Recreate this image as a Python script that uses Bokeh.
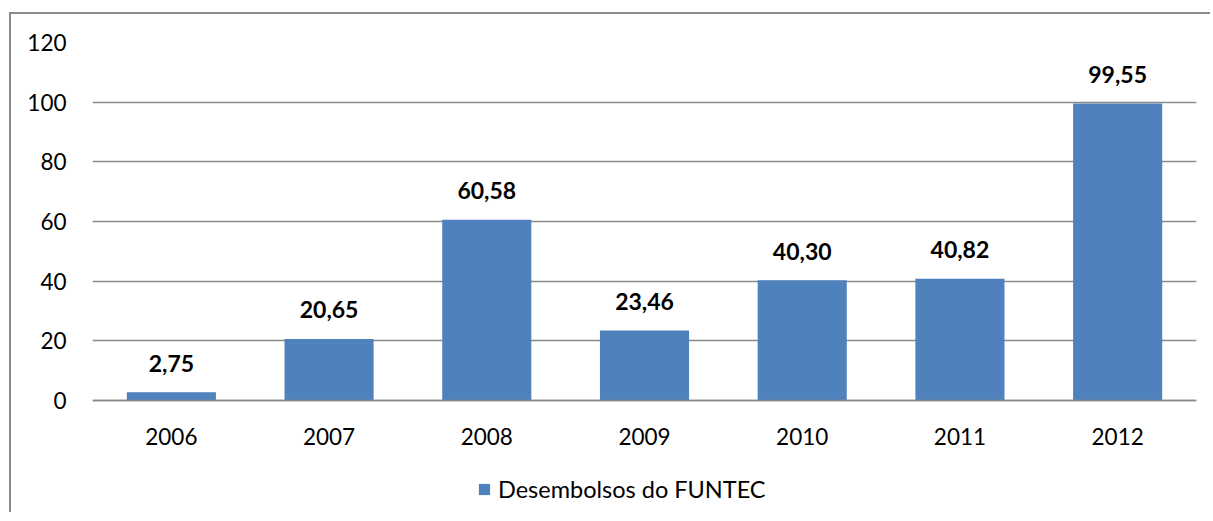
from bokeh.plotting import figure
from bokeh.models import ColumnDataSource, FactorRange, Range1d, Legend, LegendItem, FixedTicker
from bokeh.core.properties import value
from bokeh.embed import file_html
from bokeh.resources import INLINE

years = ["2006", "2007", "2008", "2009", "2010", "2011", "2012"]
desembolsos = [2.75, 20.65, 60.58, 23.46, 40.30, 40.82, 99.55]
labels = [f"{v:.2f}".replace(".", ",") for v in desembolsos]
y_ticks = [0, 20, 40, 60, 80, 100, 120]
series_name = "Desembolsos do FUNTEC"

FONT = "Lato"
source = ColumnDataSource(dict(x=years, y=desembolsos, label=labels))

# frame extends below zero so the category labels and legend sit inside it
FRAME_H = 468
Y_MAX = 120
Y_MIN = Y_MAX - FRAME_H * Y_MAX / 358.0

p = figure(width=1201, height=500, x_range=FactorRange(*years), y_range=Range1d(Y_MIN, Y_MAX),
           output_backend="svg", toolbar_location=None,
           min_border_left=81, min_border_right=16, min_border_top=28, min_border_bottom=4)
p.margin = (12, 0, 0, 9)
p.styles = {"border-left": "2px solid #8a8a8a", "border-top": "2px solid #8a8a8a"}
p.outline_line_color = None
p.background_fill_color = "white"
p.border_fill_color = "white"

bars = p.vbar(x="x", top="y", bottom=0, width=0.565, source=source, fill_color="#4F81BD", line_color=None)
p.text(x="x", y="y", text="label", source=source, text_align="center", text_baseline="alphabetic",
       y_offset=-29, text_font=value(FONT), text_font_style="bold", text_font_size="23px",
       text_color="black")

p.xgrid.grid_line_color = None
p.ygrid.grid_line_color = "#8a8a8a"
p.ygrid.grid_line_width = 1.5
p.yaxis.ticker = FixedTicker(ticks=y_ticks)
p.yaxis.axis_line_color = None
p.yaxis.major_tick_line_color = None
p.yaxis.minor_tick_line_color = None
p.yaxis.major_label_standoff = 20
p.xaxis.fixed_location = 0
p.xaxis.axis_line_color = "#8a8a8a"
p.xaxis.axis_line_width = 1.5
p.xaxis.major_tick_line_color = None
p.xaxis.major_label_standoff = 21
for ax in (p.xaxis, p.yaxis):
    ax.major_label_text_font = FONT
    ax.major_label_text_font_size = "22.5px"
    ax.major_label_text_color = "black"

legend = Legend(items=[LegendItem(label=series_name, renderers=[bars])], location=(385, 7),
                orientation="horizontal", label_text_font=FONT, label_text_font_size="23.5px",
                label_text_color="black", glyph_width=14, glyph_height=14, label_standoff=7,
                border_line_color=None, background_fill_alpha=0, padding=0, margin=0)
p.add_layout(legend, "center")

open("out.html", "w").write(file_html(p, INLINE))
